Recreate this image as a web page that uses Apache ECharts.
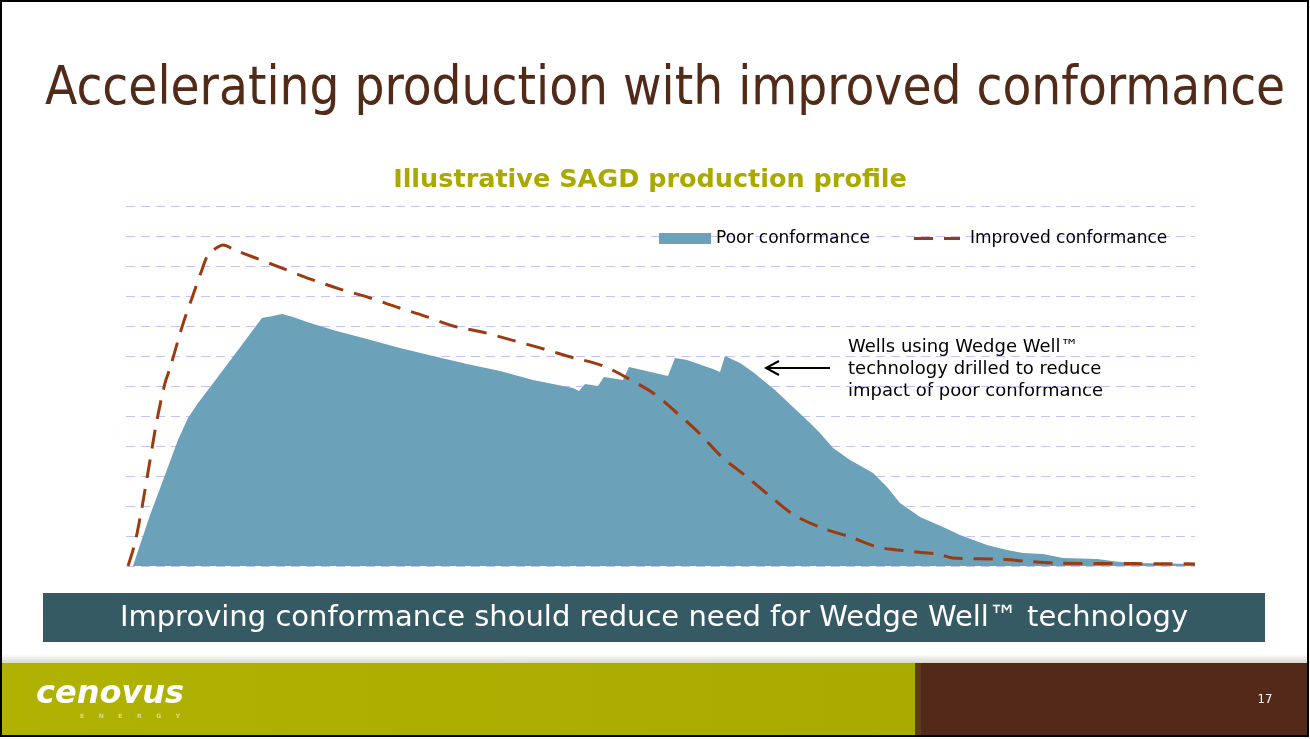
<!DOCTYPE html>
<html>
<head>
<meta charset="utf-8">
<script src="https://cdn.jsdelivr.net/npm/echarts@6/dist/echarts.min.js"></script>
<style>
html,body{margin:0;padding:0;background:#fff;}
#chart{width:1310px;height:739px;}
</style>
</head>
<body>
<div id="chart"></div>
<script>
// ---- Data (x = time, arbitrary units 0..100; y = rate, 0..12) ----
const poorX = [0.65,2.25,3.65,4.86,5.8,6.74,7.67,10.2,12.72,13.75,14.59,15.62,16.93,19.36,22.54,25.63,28.72,31.9,34.99,38.07,41.81,42.38,42.94,44.15,44.71,46.49,47.05,50.7,51.36,52.48,54.91,55.57,56.03,57.44,58.65,60.71,62.39,63.99,64.92,66.14,67.73,69.88,71.19,72.4,74.28,76.43,78.02,80.54,82.41,83.91,85.78,87.65,90.83,92.98,94.57,100];
const poorY = [0,1.7,3.03,4.2,4.93,5.43,5.87,7.07,8.27,8.33,8.4,8.3,8.13,7.87,7.57,7.27,7.0,6.73,6.5,6.2,5.93,5.83,6.07,6.0,6.3,6.2,6.63,6.33,6.93,6.87,6.57,6.47,7.0,6.77,6.47,5.87,5.3,4.77,4.43,3.93,3.53,3.1,2.63,2.1,1.63,1.3,1.03,0.7,0.53,0.43,0.4,0.27,0.23,0.13,0.1,0.07];
const improvedX = [0.19,0.84,1.5,2.25,2.9,3.65,4.12,5.33,6.27,7.2,7.67,8.33,9.07,10.2,11.88,14.59,17.21,20.02,22.54,25.35,27.97,30.59,33.3,36.11,38.73,41.25,44.15,45.28,46.87,49.3,51.54,53.7,55.75,58.09,60.24,62.49,65.11,67.73,70.35,73.06,75.87,77.36,81.76,83.91,86.72,94.57,100];
const improvedY = [0,0.77,1.97,3.53,4.87,6.1,6.6,8.07,9.03,9.97,10.37,10.57,10.7,10.53,10.3,9.93,9.57,9.23,8.97,8.63,8.33,8.0,7.8,7.53,7.27,7.0,6.73,6.57,6.27,5.77,5.1,4.4,3.63,2.97,2.33,1.7,1.27,0.97,0.63,0.5,0.4,0.27,0.23,0.17,0.1,0.08,0.07];
const seriesNames = ['Poor conformance', 'Improved conformance'];
const yTicks = [0,1,2,3,4,5,6,7,8,9,10,11,12];

const titleText = 'Accelerating production with improved conformance';
const chartTitle = 'Illustrative SAGD production profile';
const noteLines = ['Wells using Wedge Well\u2122', 'technology drilled to reduce', 'impact of poor conformance'];
const bannerText = 'Improving conformance should reduce need for Wedge Well\u2122 technology';
const pageNo = '17';

const poorData = poorX.map((x, i) => [x, poorY[i]]);
const improvedData = improvedX.map((x, i) => [x, improvedY[i]]);

const FONT_C = "'DejaVu Sans Condensed','DejaVu Sans',sans-serif";
const FONT = "'DejaVu Sans',sans-serif";
const BLUE = '#6ba1b9';
const RUST = '#9c3a10';

const chart = echarts.init(document.getElementById('chart'), null, {renderer: 'canvas'});
const option = {
  backgroundColor: '#ffffff',
  animation: false,
  grid: {left: 126, right: 115, top: 206, bottom: 173},
  xAxis: {type: 'value', min: 0, max: 100, show: false},
  yAxis: {
    type: 'value', min: yTicks[0], max: yTicks[yTicks.length - 1], interval: 1,
    axisLine: {show: false}, axisTick: {show: false}, axisLabel: {show: false},
    splitLine: {show: true, lineStyle: {color: '#c2c2ff', width: 1, type: [9, 6]}}
  },
  legend: [
    {data: [seriesNames[0]], left: 659, top: 230, padding: 0, icon: 'rect', itemWidth: 52, itemHeight: 11, itemGap: 0,
     textStyle: {fontFamily: FONT, fontSize: 17, color: '#000'}},
    {data: [seriesNames[1]], left: 914, top: 230, padding: 0, itemWidth: 46, itemHeight: 3, itemGap: 0,
     icon: 'path://M0,0 H19 V3 H0 Z M30,0 H46 V3 H30 Z',
     textStyle: {fontFamily: FONT, fontSize: 17, color: '#000', padding: [0, 0, 0, 5]}}
  ],
  series: [
    {
      name: seriesNames[0], type: 'line', data: poorData, symbol: 'none', smooth: false,
      itemStyle: {color: BLUE}, lineStyle: {width: 0, color: BLUE},
      areaStyle: {color: BLUE, opacity: 1}, z: 2
    },
    {
      name: seriesNames[1], type: 'line', data: improvedData, symbol: 'none', smooth: 0.3,
      itemStyle: {color: RUST}, lineStyle: {width: 3, color: RUST, type: [19, 11]}, z: 3
    }
  ],
  graphic: [
    {type: 'rect', shape: {x: 1, y: 1, width: 1307, height: 735}, style: {fill: 'none', stroke: '#000', lineWidth: 2}, z: 100},
    {type: 'text', left: 45, top: 64, style: {text: titleText, fontFamily: FONT_C, fontSize: 52.5, fill: '#512b18'}},
    {type: 'text', x: 650, y: 180, style: {text: chartTitle, fontFamily: FONT, fontSize: 25.5, fontWeight: 'bold', fill: '#a9a900', align: 'center', verticalAlign: 'middle'}},
    {type: 'text', x: 848, y: 336, style: {text: noteLines.join('\n'), fontFamily: FONT, fontSize: 18, lineHeight: 22, fill: '#000', verticalAlign: 'top'}},
    {type: 'line', shape: {x1: 766, y1: 368, x2: 830, y2: 368}, style: {stroke: '#000', lineWidth: 2}},
    {type: 'polyline', shape: {points: [[779, 361], [766, 368], [779, 375]]}, style: {stroke: '#000', lineWidth: 2, fill: 'none'}},
    {type: 'rect', shape: {x: 43, y: 593, width: 1222, height: 49}, style: {fill: '#365a63'}},
    {type: 'text', x: 654, y: 618, style: {text: bannerText, fontFamily: FONT, fontSize: 29, fill: '#ffffff', align: 'center', verticalAlign: 'middle'}},
    {type: 'rect', shape: {x: 2, y: 654, width: 1305, height: 9}, style: {fill: new echarts.graphic.LinearGradient(0, 0, 0, 1, [{offset: 0, color: '#ffffff'}, {offset: 1, color: '#d8d8cc'}])}},
    {type: 'rect', shape: {x: 2, y: 663, width: 913, height: 73}, style: {fill: new echarts.graphic.LinearGradient(0, 0, 1, 0, [{offset: 0, color: '#b0b200'}, {offset: 1, color: '#a8ac00'}])}},
    {type: 'rect', shape: {x: 915, y: 663, width: 392, height: 73}, style: {fill: '#53291a'}},
    {type: 'rect', shape: {x: 915, y: 663, width: 6, height: 73}, style: {fill: '#5e3a22'}},
    {type: 'text', x: 36, y: 695, style: {text: 'cenovus', fontFamily: FONT, fontSize: 32, fontWeight: 'bold', fontStyle: 'italic', fill: '#ffffff', verticalAlign: 'middle'}},
    {type: 'text', x: 80, y: 716, style: {text: 'E       N       E       R       G       Y', fontFamily: FONT, fontSize: 6, fontWeight: 'bold', fill: '#d8dca0', verticalAlign: 'middle'}},
    {type: 'text', x: 1265, y: 700, style: {text: pageNo, fontFamily: FONT_C, fontSize: 13, fill: '#ffffff', align: 'center', verticalAlign: 'middle'}}
  ]
};
chart.setOption(option);
</script>
</body>
</html>
